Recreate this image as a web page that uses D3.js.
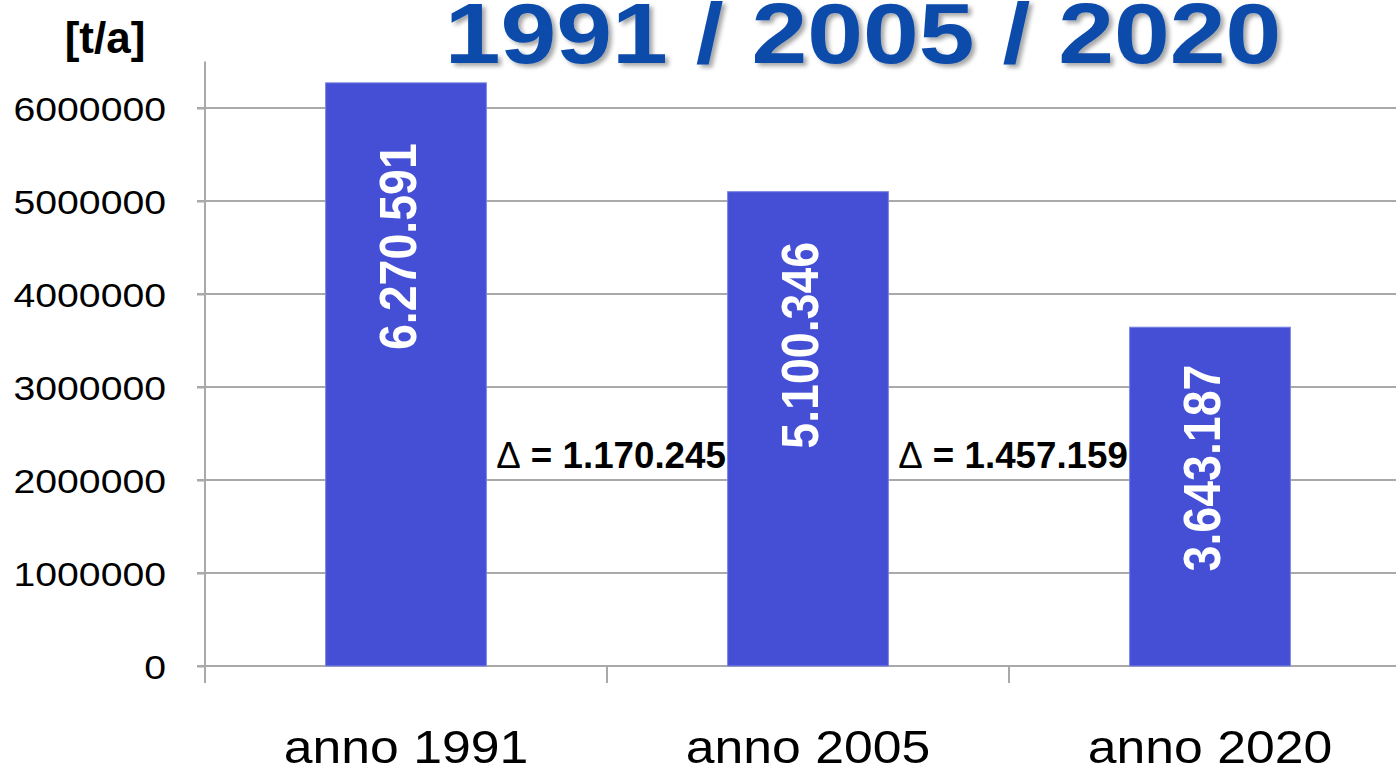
<!DOCTYPE html>
<html>
<head>
<meta charset="utf-8">
<script src="https://cdn.jsdelivr.net/npm/d3@7/dist/d3.min.js"></script>
<style>
  html, body { margin: 0; padding: 0; background: #fff; }
  svg { display: block; font-family: "Liberation Sans", Arial, sans-serif; }
</style>
</head>
<body>
<svg id="chart" width="1396" height="769"></svg>
<script>
// ---- data ----
const categories = ["anno 1991", "anno 2005", "anno 2020"];
const values = [6270591, 5100346, 3643187];
const yTicks = [0, 1000000, 2000000, 3000000, 4000000, 5000000, 6000000];
const titleText = "1991 / 2005 / 2020";
const unitText = "[t/a]";

// ---- layout ----
const W = 1396, H = 769;
const plot = { left: 205, right: 1411, top: 61.5, bottom: 666 };
const svg = d3.select("#chart");

const x = d3.scaleBand().domain(categories).range([plot.left, plot.right])
  .paddingInner(0.6).paddingOuter(0.3);
const y = d3.scaleLinear().domain([0, 6500000]).range([plot.bottom, plot.top]);

const it = d3.formatLocale({ decimal: ",", thousands: ".", grouping: [3], currency: ["", ""] });
const fmtDot = it.format(",d");

const axisColor = "#a9a9a9";

// gridlines
svg.append("g").selectAll("line").data(yTicks.filter(d => d > 0)).join("line")
  .attr("x1", plot.left - 8).attr("x2", W)
  .attr("y1", d => y(d)).attr("y2", d => y(d))
  .attr("stroke", axisColor).attr("stroke-width", 2);

// y axis
const yAxis = d3.axisLeft(y).tickValues(yTicks).tickSize(8).tickPadding(0).tickFormat(d3.format("d"));
const gy = svg.append("g").attr("transform", `translate(${plot.left},0)`).call(yAxis);
gy.select(".domain").remove();
gy.append("line").attr("x1", 0).attr("x2", 0).attr("y1", plot.top).attr("y2", plot.bottom + 17)
  .attr("stroke", axisColor).attr("stroke-width", 2);
gy.selectAll(".tick line").attr("stroke", axisColor).attr("stroke-width", 2);
gy.selectAll(".tick text")
  .attr("font-size", 33.5).attr("fill", "#000").attr("x", 0).attr("dy", "0.36em")
  .attr("transform", "translate(-39,0) scale(1.17,1)")
  .attr("text-anchor", "end");

// x axis (baseline + tick marks at band boundaries)
const gx = svg.append("g");
gx.append("line").attr("x1", plot.left - 8).attr("x2", W)
  .attr("y1", plot.bottom).attr("y2", plot.bottom)
  .attr("stroke", axisColor).attr("stroke-width", 2);
const step = x.step();
const boundaries = categories.map(c => x(c) - step * x.paddingOuter());
gx.selectAll("line.tk").data(boundaries).join("line").attr("class", "tk")
  .attr("x1", d => d).attr("x2", d => d)
  .attr("y1", plot.bottom).attr("y2", plot.bottom + 17)
  .attr("stroke", axisColor).attr("stroke-width", 2);
gx.selectAll("text").data(categories).join("text")
  .attr("transform", d => `translate(${x(d) + x.bandwidth() / 2},${763}) scale(1.1,1)`)
  .attr("text-anchor", "middle").attr("font-size", 47).attr("fill", "#000")
  .text(d => d);

// bars
svg.append("g").selectAll("rect").data(values).join("rect")
  .attr("x", (d, i) => x(categories[i]))
  .attr("width", x.bandwidth())
  .attr("y", d => y(d))
  .attr("height", d => y(0) - y(d))
  .attr("fill", "#444fd6")
  .attr("stroke", "#7d85e2").attr("stroke-width", 1);

// value labels inside bars (rotated)
svg.append("g").selectAll("text").data(values).join("text")
  .attr("transform", (d, i) => {
    const cx = x(categories[i]) + x.bandwidth() / 2 + 10;
    const h = y(0) - y(d);
    const cy = y(d) + 109 + 0.094 * h;
    return `translate(${cx},${cy}) rotate(-90) scale(1,1.1)`;
  })
  .attr("text-anchor", "middle").attr("font-size", 46.5).attr("font-weight", "bold")
  .attr("fill", "#fff")
  .text(d => fmtDot(d));

// delta labels between bars
const deltas = values.slice(1).map((v, i) => values[i] - v);
const dl = svg.append("g").selectAll("text").data(deltas).join("text")
  .attr("transform", (d, i) => `translate(${(x(categories[i]) + x.bandwidth() + x(categories[i + 1])) / 2 + 4},${y(2130000)}) scale(1.02,1)`)
  .attr("text-anchor", "middle").attr("font-size", 36).attr("font-weight", "bold")
  .attr("fill", "#000");
dl.append("tspan").attr("font-weight", "normal").text("\u0394");
dl.append("tspan").text(d => " = " + fmtDot(d));

// unit label
svg.append("text").attr("x", 105).attr("y", 53).attr("text-anchor", "middle")
  .attr("font-size", 44).attr("font-weight", "bold").attr("fill", "#000")
  .text(unitText);

// title with shadow
const defs = svg.append("defs");
const f = defs.append("filter").attr("id", "shadow").attr("x", "-5%").attr("y", "-20%").attr("width", "110%").attr("height", "150%");
f.append("feDropShadow").attr("dx", 3).attr("dy", 3).attr("stdDeviation", 2)
  .attr("flood-color", "#000").attr("flood-opacity", 0.35);
svg.append("text")
  .attr("transform", "translate(863,63) scale(1.18,1)")
  .attr("text-anchor", "middle").attr("font-size", 85).attr("font-weight", "bold")
  .attr("fill", "#0b4bab").attr("filter", "url(#shadow)")
  .text(titleText);
</script>
</body>
</html>
